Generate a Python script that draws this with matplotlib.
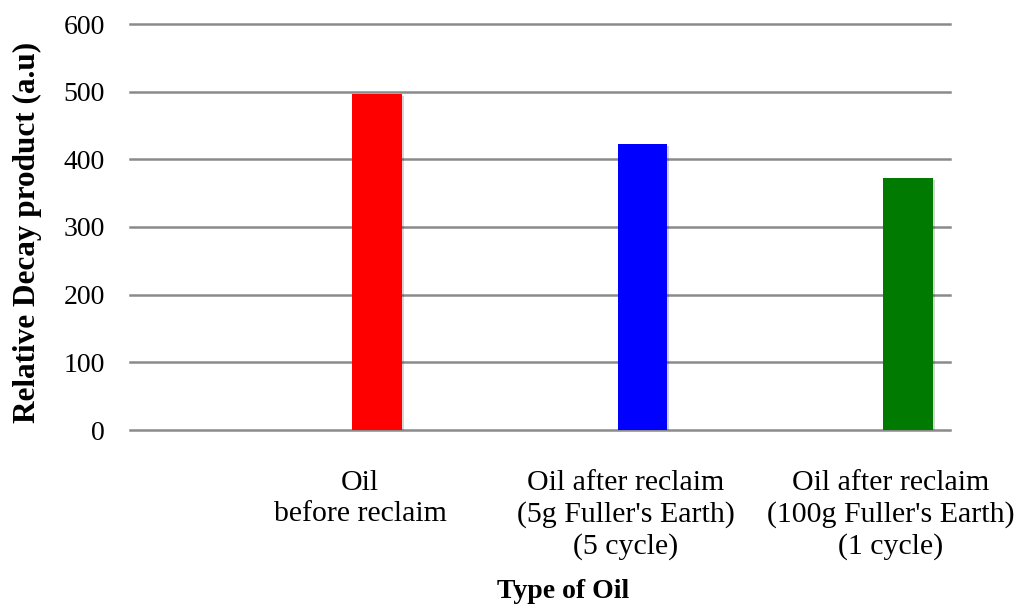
import matplotlib
matplotlib.use("Agg")
import matplotlib.pyplot as plt
import matplotlib.patheffects as pe

categories = ["Oil\nbefore reclaim",
              "Oil after reclaim\n(5g Fuller's Earth)\n(5 cycle)",
              "Oil after reclaim\n(100g Fuller's Earth)\n(1 cycle)"]
decay = [497, 423, 372]
colors = ["#ff0000", "#0000ff", "#007a00"]
yticks = [0, 100, 200, 300, 400, 500, 600]

SERIF = ["Liberation Serif", "DejaVu Serif"]
GRID = "#8a8a8a"

fig = plt.figure(figsize=(10.21, 6.10), dpi=100)
ax = fig.add_axes([130 / 1021, 1 - 430 / 610, 820 / 1021, 406 / 610])

# category slots; each bar sits a little right of its slot centre
slots = [1, 2, 3]
bar_shift = 0.064
bars = ax.bar([s + bar_shift for s in slots], decay, width=0.185, color=colors, zorder=3)
for b in bars:
    b.set_path_effects([pe.SimplePatchShadow(offset=(1.5, -1.5), alpha=0.18), pe.Normal()])

ax.set_xlim(0.07 + bar_shift, 3.158 + bar_shift)
ax.set_ylim(0, 600)
ax.set_yticks(yticks)
ax.set_yticklabels([str(v) for v in yticks], family=SERIF, fontsize=20)
for v in yticks:
    ax.axhline(v, color=GRID, lw=1.8, zorder=1, clip_on=False)

ax.set_xticks(slots)
ax.set_xticklabels(categories, family=SERIF, fontsize=21.5, va="top", linespacing=1.25)
ax.tick_params(axis="both", length=0)
ax.tick_params(axis="x", pad=29)
ax.tick_params(axis="y", pad=18)
for s in ax.spines.values():
    s.set_visible(False)

fig.text(27 / 1021, 1 - 232 / 610, "Relative Decay product (a.u)", rotation=90,
         ha="center", va="center", family=SERIF, fontsize=22.5, fontweight="bold")
fig.text(563 / 1021, 1 - 591 / 610, "Type of Oil", ha="center", va="center",
         family=SERIF, fontsize=20, fontweight="bold")

fig.savefig("out.png", dpi=100, facecolor="white")
